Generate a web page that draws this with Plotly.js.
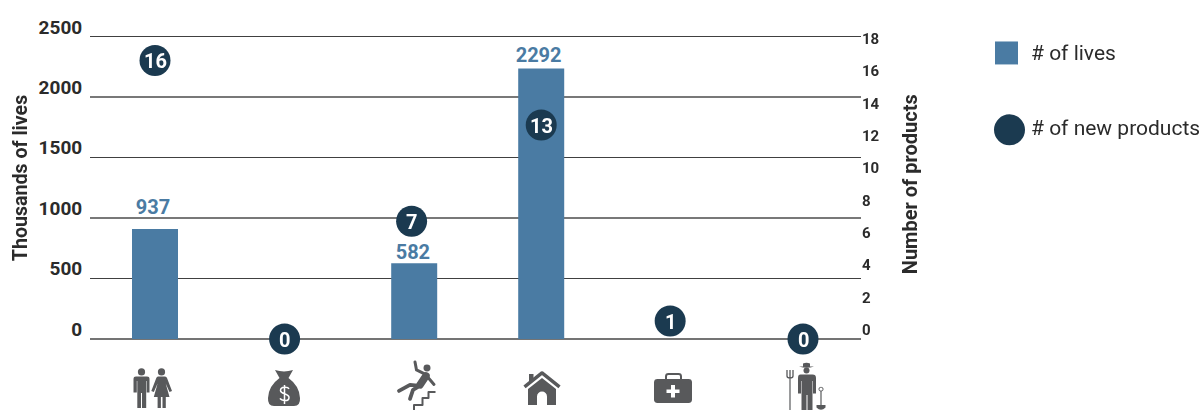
<!DOCTYPE html>
<html>
<head>
<meta charset="utf-8">
<script src="https://cdn.plot.ly/plotly-3.0.1.min.js"></script>
<style>html,body{margin:0;padding:0;background:#fff}#chart{width:1202px;height:410px}</style>
</head>
<body>
<div id="chart"></div>
<script>
const categories = ['People', 'Income', 'Accident', 'Home', 'Health', 'Agriculture'];
const barX = [0, 1, 2, 2.98, 3.98, 5];
const barHeights = [910, 0, 628, 2240, 0, 0];
const lifeLabels = ['937', '', '582', '2292', '', ''];
const lifeLabelX = [-0.015, 1, 1.99, 2.96, 3.98, 5];
const lifeLabelY = [1075, null, 703, 2331, null, null];
const productLabels = ['16', '0', '7', '13', '1', '0'];
const productX = [0, 1, 1.98, 2.98, 3.975, 5];
const productY = [16.6, 0, 7.02, 12.75, 1.07, 0];
const leftTicks = [0, 500, 1000, 1500, 2000, 2500];
const darkGridTicks = [500, 1500, 2500];
const greyGridTicks = [1000, 2000];
const rightTicks = [0, 2, 4, 6, 8, 10, 12, 14, 16, 18];

const W = 1202, H = 410;
const L = 90, R = 861, T = 26.5, B = 339, GRID_TOP = 34.5;
const LIVES_MAX = 2516.53, PRODUCTS_MAX = 18.119;
const FONT = 'Roboto, sans-serif';
const BLUE = '#4a7ba3', NAVY = '#1b3a50', GREY = '#58595b', INK = '#2b2b2b';
const px = v => (v - L) / (R - L);
const py = v => (B - v) / (B - T);
const dom = (top, bot) => [py(bot), py(top)];

const I = GREY;
const icons = [
  {left: 129, body: `<path fill="${I}" d="M4.500 19q0-2.500 2.500-2.500h11q2.500 0 2.500 2.500v13.500h-2.800V21h-.5v27h-4.200V33h-1v15H8.300V21h-.5v11.500H4.500z"/><circle fill="${I}" cx="12.500" cy="12" r="3.600"/><path fill="${I}" d="M29 16.500h7q1.500 0 2 1.500l5 13-2.500 1.200-3.800-8.700 3.800 13.500H36.800v11h-3.300V37h-1.600v11h-3.300V37h-3.800l3.800-13.500-3.800 8.700-2.500-1.200 5-13q.5-1.500 1.700-1.500z"/><circle fill="${I}" cx="32.500" cy="12" r="3.600"/>`},
  {left: 260, body: `<path fill="${I}" d="M15 10q9 3 18 0l-4.500 8q11 8 11.500 20 .5 8-6 8H14q-6.500 0-6-8 .5-12 11.500-20z"/><path fill="none" stroke="#fff" stroke-width="1.500" d="M29 29c-1-2.200-8.500-2.500-8.500 1.500s8.500 2.500 8.500 7-7.500 3.500-9 1M24.500 25v19"/>`},
  {left: 390, body: `<g fill="none" stroke="${I}" stroke-linecap="round" stroke-linejoin="round"><path stroke-width="3" d="M25 2l1.500 8 9 4.500 8.500 10"/><path stroke-width="7.500" d="M36 16l-6 9"/><path stroke-width="3.800" d="M30 26l-10-1-11 6M28 27l-5 3-3 9"/><path stroke-width="2" stroke-linecap="butt" d="M24 50v-5h8.500v-7h6v-6h7"/></g><circle fill="${I}" cx="37" cy="8" r="3.500"/>`},
  {left: 517, body: `<path fill="${I}" d="M12 14h4.500v5L12 23z"/><path fill="none" stroke="${I}" stroke-width="3.500" stroke-linejoin="round" d="M7.500 27L25 13l17.500 14"/><path fill="${I}" d="M11 29L25 18l14 11v16h-9V36.500a5 5 0 0 0-10 0V45h-9z"/>`},
  {left: 646, body: `<path fill="none" stroke="${I}" stroke-width="2" d="M20 20v-3.500q0-2.500 2.500-2.500h10q2.500 0 2.500 2.500V20"/><rect fill="${I}" x="8" y="19" width="38" height="24" rx="3.500"/><path fill="#fff" d="M25 25h4v4.500h4.500v3.500H29v4.500h-4V33h-4.500v-3.500H25z"/>`},
  {left: 780, body: `<g fill="none" stroke="${I}"><path stroke-width="1.200" d="M10 18v32"/><path stroke-width="1.300" d="M7 10v6q0 2 3 2t3-2v-6M10 10v8"/><rect x="39" y="27.500" width="4" height="3.500" rx="1.500" stroke-width="1"/><path stroke-width="1.200" d="M41 31v14"/></g><path fill="${I}" d="M19 6.500h4V3.500q3.500-1.200 7 0v3h4q-7 2.500-15 0z"/><circle fill="${I}" cx="26.500" cy="10.500" r="3"/><path fill="${I}" d="M20.500 14.500h12q3.500 0 3.500 3.500v15.500h-3V21h-.5v29h-5V35h-1v15h-5V21h-.5v12.500h-3V18q0-3.500 2.500-3.500z"/><path fill="${I}" d="M36.500 45h9v2.500q-4.500 4.500-9 0z"/>`}
];
const iconImages = icons.map(ic => ({
  source: 'data:image/svg+xml;charset=utf-8,' + encodeURIComponent(`<svg xmlns="http://www.w3.org/2000/svg" width="50" height="50" viewBox="0 0 50 50">${ic.body}</svg>`),
  xref: 'paper', yref: 'paper', x: px(ic.left), y: py(360),
  sizex: 50 / (R - L), sizey: 50 / (B - T), xanchor: 'left', yanchor: 'top', sizing: 'stretch', layer: 'above'
}));

const traces = [
  {type: 'scatter', mode: 'markers', x: [0, 5], y: [0, 2500], opacity: 0, yaxis: 'y5', showlegend: false, hoverinfo: 'skip', marker: {size: 1}},
  {type: 'bar', name: '# of lives', x: barX, y: barHeights, width: 46 / 129.6, marker: {color: BLUE},
   hovertext: categories, yaxis: 'y', showlegend: false},
  {type: 'scatter', mode: 'text', x: lifeLabelX, y: lifeLabelY, text: lifeLabels, textposition: 'middle center',
   textfont: {family: FONT, size: 20, color: BLUE, weight: 700}, yaxis: 'y', showlegend: false, hoverinfo: 'skip', cliponaxis: false},
  {type: 'scatter', mode: 'markers', x: [0, 5], y: [0, 2500], opacity: 0, yaxis: 'y2', showlegend: false, hoverinfo: 'skip', marker: {size: 1}},
  {type: 'scatter', mode: 'markers', x: [0, 5], y: [0, 18], opacity: 0, yaxis: 'y3', showlegend: false, hoverinfo: 'skip', marker: {size: 1}},
  {type: 'scatter', mode: 'markers', name: '# of new products', x: productX, y: productY,
   marker: {size: 31, color: NAVY}, yaxis: 'y4', showlegend: false, hovertext: categories, cliponaxis: false}
];

const productAnnotations = productLabels.map((t, i) => ({
  xref: 'x', yref: 'y4', x: productX[i], y: productY[i], yshift: -1, text: t, showarrow: false,
  xanchor: 'center', yanchor: 'middle', font: {family: FONT, size: 20, color: '#ffffff', weight: 700}
}));

const layout = {
  width: W, height: H, autosize: false,
  paper_bgcolor: '#ffffff', plot_bgcolor: 'rgba(0,0,0,0)',
  margin: {l: L, r: W - R, t: T, b: H - B, pad: 0},
  font: {family: FONT, color: INK},
  showlegend: false,
  xaxis: {type: 'linear', range: [(L - 155) / 129.6, (R - 155) / 129.6], visible: false, showgrid: false, zeroline: false, fixedrange: true},
  yaxis: {range: [0, LIVES_MAX], tickvals: darkGridTicks, showticklabels: false, ticks: '', showgrid: true, gridcolor: '#404040', gridwidth: 1,
    zeroline: true, zerolinecolor: '#747474', zerolinewidth: 2, showline: false, fixedrange: true, domain: dom(GRID_TOP, B)},
  yaxis5: {range: [0, LIVES_MAX], overlaying: 'y', tickvals: greyGridTicks, showticklabels: false, ticks: '', showgrid: true, gridcolor: '#787878', gridwidth: 2,
    zeroline: false, showline: false, fixedrange: true},
  yaxis2: {range: [0, 2500], tickvals: leftTicks, ticktext: leftTicks.map(String), side: 'left', anchor: 'x', showgrid: false, zeroline: false,
    ticks: 'outside', ticklen: 3, tickcolor: 'rgba(0,0,0,0)', tickfont: {family: FONT, size: 19, color: INK, weight: 700}, fixedrange: true,
    domain: dom(T, B - 10),
    title: {text: 'Thousands of lives', font: {family: FONT, size: 19.6, color: INK, weight: 700}, standoff: 5}},
  yaxis3: {range: [0, 18], tickvals: rightTicks, ticktext: rightTicks.map(String), side: 'right', anchor: 'x', showgrid: false, zeroline: false,
    ticks: '', tickfont: {family: FONT, size: 15, color: INK, weight: 700}, fixedrange: true,
    domain: dom(38, 330),
    title: {text: 'Number of products', font: {family: FONT, size: 20, color: INK, weight: 700}, standoff: 24}},
  yaxis4: {range: [0, PRODUCTS_MAX], overlaying: 'y', visible: false, showgrid: false, zeroline: false, fixedrange: true},
  images: iconImages,
  shapes: [
    {type: 'rect', xref: 'paper', yref: 'paper', x0: px(995), x1: px(1018), y0: py(41), y1: py(64), fillcolor: BLUE, line: {width: 0}},
    {type: 'circle', xref: 'paper', yref: 'paper', x0: px(994), x1: px(1025), y0: py(114), y1: py(145), fillcolor: NAVY, line: {width: 0}}
  ],
  annotations: productAnnotations.concat([
    {xref: 'paper', yref: 'paper', x: px(1029), y: py(53), text: '# of lives', showarrow: false, xanchor: 'left', yanchor: 'middle', font: {family: FONT, size: 21, color: INK}},
    {xref: 'paper', yref: 'paper', x: px(1029), y: py(128), text: '# of new products', showarrow: false, xanchor: 'left', yanchor: 'middle', font: {family: FONT, size: 21, color: INK}}
  ])
};

Plotly.newPlot('chart', traces, layout, {displayModeBar: false});
</script>
</body>
</html>
